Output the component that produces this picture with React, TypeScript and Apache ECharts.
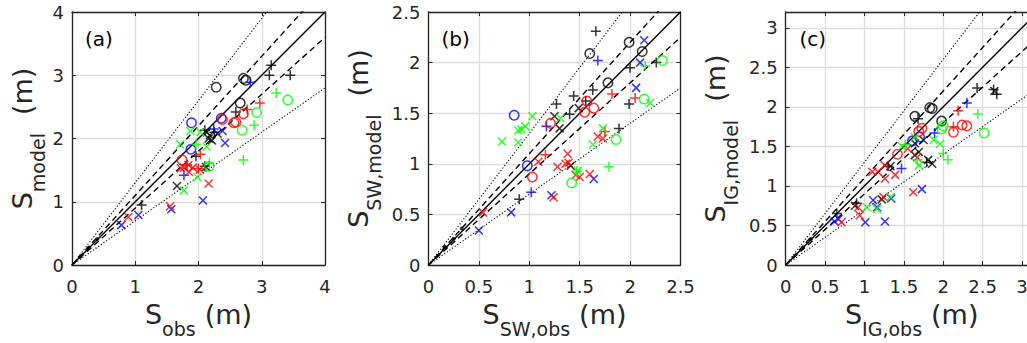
import React, { useEffect, useRef } from "react";
import * as echarts from "echarts";

// ---------------- data ----------------
// Panel (a): S_obs vs S_model
const aBlackO = [[2.28, 2.81], [2.71, 2.95], [2.75, 2.92], [2.66, 2.56]];
const aBlackP = [[3.15, 3.16], [3.12, 3.0], [3.45, 3.0], [2.59, 2.42], [2.1, 2.13], [2.25, 2.1], [1.96, 1.72], [2.1, 1.56], [1.1, 0.95]];
const aBlackX = [[2.13, 2.1], [2.18, 2.05], [2.16, 2.0], [2.21, 1.97], [2.3, 2.08], [2.12, 1.55], [1.66, 1.25]];
const aBlueO = [[1.89, 2.25], [1.88, 1.83], [2.36, 2.32]];
const aBlueP = [[2.82, 2.89], [2.24, 2.15], [1.77, 1.42]];
const aBlueX = [[2.38, 2.12], [2.42, 1.93], [2.07, 1.02], [1.57, 0.88], [1.05, 0.79], [0.78, 0.63]];
const aRedO = [[2.71, 2.39], [2.59, 2.26], [2.56, 2.25], [2.38, 2.3], [1.74, 1.66]];
const aRedP = [[2.97, 2.56], [2.77, 2.46], [2.03, 1.75], [1.82, 1.58], [2.0, 1.52]];
const aRedX = [[1.77, 1.54], [1.84, 1.58], [1.91, 1.54], [1.72, 1.53], [2.02, 1.51], [1.85, 1.47], [2.16, 1.29], [1.55, 0.93], [0.89, 0.76]];
const aGreenO = [[3.41, 2.61], [2.92, 2.41], [2.69, 2.13], [2.17, 1.56]];
const aGreenP = [[3.23, 2.72], [2.88, 2.21], [2.71, 1.66], [1.96, 1.91], [2.17, 1.61]];
const aGreenX = [[1.87, 2.12], [2.03, 2.1], [1.71, 1.91], [2.13, 1.87], [1.98, 1.39], [1.77, 1.18]];
const aDots = [[0.13, 0.13], [0.26, 0.27], [0.4, 0.41]];

// Panel (b): S_SW,obs vs S_SW,model
const bBlackO = [[1.6, 2.09], [1.99, 2.2], [2.12, 2.11], [1.78, 1.8]];
const bBlackP = [[1.66, 2.31], [2.0, 1.95], [2.26, 2.0], [1.99, 1.59], [1.89, 1.35], [1.27, 1.59], [1.44, 1.67], [1.4, 1.49], [1.56, 1.62], [1.63, 1.73], [0.9, 0.65]];
const bBlackX = [[1.25, 1.47], [1.3, 1.35], [1.41, 0.98], [1.49, 1.55]];
const bBlueO = [[0.85, 1.48], [0.98, 0.98]];
const bBlueP = [[1.68, 2.02], [1.17, 1.37], [1.02, 0.72]];
const bBlueX = [[2.14, 2.22], [2.1, 2.0], [2.06, 1.75], [1.22, 0.69], [1.64, 0.85], [0.82, 0.52], [0.5, 0.34]];
const bRedO = [[1.57, 1.62], [1.64, 1.55], [1.55, 1.51], [1.21, 1.4], [1.03, 0.87]];
const bRedP = [[1.82, 1.69], [2.05, 1.65], [1.75, 1.32], [1.16, 1.09]];
const bRedX = [[1.68, 1.27], [1.73, 1.25], [1.09, 1.02], [1.38, 1.1], [1.28, 0.97], [1.36, 1.0], [1.39, 1.01], [1.46, 0.89], [1.5, 0.87], [1.6, 0.9], [1.24, 0.67], [0.54, 0.52]];
const bGreenO = [[2.32, 2.02], [2.14, 1.64], [1.86, 1.24], [1.42, 0.81]];
const bGreenP = [[2.15, 1.97], [1.79, 0.97], [1.47, 0.93]];
const bGreenX = [[2.2, 1.6], [1.03, 1.47], [0.96, 1.37], [0.92, 1.34], [0.89, 1.33], [0.73, 1.22], [0.89, 1.21], [1.31, 1.45], [1.73, 1.35], [1.63, 1.19], [1.48, 0.93]];
const bDots = [[0.16, 0.18], [0.25, 0.26], [0.33, 0.36]];

// Panel (c): S_IG,obs vs S_IG,model
const cBlackO = [[1.83, 1.99], [1.86, 1.98], [1.64, 1.88], [1.98, 1.82]];
const cBlackP = [[2.43, 2.24], [2.64, 2.22], [2.68, 2.16], [1.68, 1.85], [1.79, 1.3], [1.3, 1.25], [0.9, 0.78], [0.65, 0.65]];
const cBlackX = [[1.75, 1.58], [1.64, 1.54], [1.69, 1.43], [1.64, 1.39], [1.81, 1.33], [1.86, 1.28], [1.33, 1.25], [1.22, 0.83], [0.88, 0.75], [2.65, 2.2]];
const cBlueO = [[1.61, 1.57], [1.7, 1.62]];
const cBlueP = [[2.3, 2.05], [1.89, 1.67], [1.47, 1.22]];
const cBlueX = [[1.73, 0.96], [1.11, 0.82], [1.16, 0.73], [1.34, 0.84], [1.01, 0.54], [1.26, 0.55], [0.67, 0.58], [0.62, 0.55]];
const cRedO = [[1.73, 1.73], [1.69, 1.69], [2.13, 1.68], [2.24, 1.77], [2.3, 1.76], [1.42, 1.4]];
const cRedP = [[2.19, 1.95], [2.13, 1.75]];
const cRedX = [[1.55, 1.47], [1.67, 1.36], [1.26, 1.26], [1.1, 1.18], [1.17, 1.18], [1.26, 1.09], [1.39, 1.14], [1.62, 0.92], [1.24, 0.86], [0.92, 0.73], [0.94, 0.63], [0.71, 0.54]];
const cGreenO = [[2.52, 1.67], [1.98, 1.72], [2.0, 1.76]];
const cGreenP = [[2.44, 1.91], [2.0, 1.41], [2.06, 1.33], [1.67, 1.33], [1.52, 1.52]];
const cGreenX = [[1.88, 1.58], [1.96, 1.53], [1.64, 1.62], [1.48, 1.5], [1.69, 1.26], [1.33, 0.86], [1.03, 0.73], [1.16, 0.71]];
const cDots = [[0.22, 0.22], [0.32, 0.33]];

// axis ranges and ticks
const xMaxes = [4, 2.5, 3.2];
const yMaxes = [4, 2.5, 3.2];
const intervals = [1, 0.5, 0.5];
const panelLabels = ["(a)", "(b)", "(c)"];
const xSubs = ["obs", "SW,obs", "IG,obs"];
const ySubs = ["model", "SW,model", "IG,model"];

// reference lines (ratio model/obs)
const solidSlopes = [1];
const dashedSlopes = [1.1, 0.9];
const dottedSlopes = [1.3, 0.7];

// ---------------- styling ----------------
const FONT = "DejaVu Sans";
const AX = "#262626";
const GRIDC = "#dedede";
const COLORS: Record<string, string> = { k: "#000000", r: "#ff0000", g: "#00ff00", b: "#0000ff" };
const PLUS = "path://M5,0L5,10M0,5L10,5";
const CROSS = "path://M0,0L10,10M0,10L10,0";

const PANEL_DATA = [
  { k: [aBlackO, aBlackP, aBlackX], b: [aBlueO, aBlueP, aBlueX], r: [aRedO, aRedP, aRedX], g: [aGreenO, aGreenP, aGreenX], dots: aDots },
  { k: [bBlackO, bBlackP, bBlackX], b: [bBlueO, bBlueP, bBlueX], r: [bRedO, bRedP, bRedX], g: [bGreenO, bGreenP, bGreenX], dots: bDots },
  { k: [cBlackO, cBlackP, cBlackX], b: [cBlueO, cBlueP, cBlueX], r: [cRedO, cRedP, cRedX], g: [cGreenO, cGreenP, cGreenX], dots: cDots },
];

const LAYOUT = [
  { left: 72, width: 253, yGap: 25, labelX: 85 },
  { left: 428.5, width: 252, yGap: 45.5, labelX: 441.5 },
  { left: 785.7, width: 252, yGap: 45.5, labelX: 799.5 },
];
const GRID_TOP = 12;
const GRID_H = 253;
const LH = 38;

const rich = {
  s: { fontSize: 27, lineHeight: LH, verticalAlign: "top", fontFamily: FONT, color: AX },
  sub: { fontSize: 19, lineHeight: 19, verticalAlign: "bottom", fontFamily: FONT, color: AX },
  u1: { fontSize: 27, lineHeight: LH, verticalAlign: "top", fontFamily: FONT, color: AX, padding: [0, 0, 0, 9] },
  u2: { fontSize: 27, lineHeight: LH, verticalAlign: "top", fontFamily: FONT, color: AX, padding: [0, 0, 0, 18] },
};

function tickFmt(interval: number) {
  return (v: number) => (Math.abs(v / interval - Math.round(v / interval)) < 1e-6 ? String(v) : "");
}

export default function App() {
  const ref = useRef<HTMLDivElement>(null);
  useEffect(() => {
    if (!ref.current) return;
    document.body.style.margin = "0";
    const chart = echarts.init(ref.current, undefined, { renderer: "svg" });

    const grids: any[] = [];
    const xAxes: any[] = [];
    const yAxes: any[] = [];
    const series: any[] = [];
    const graphics: any[] = [];

    for (let i = 0; i < 3; i++) {
      const L = LAYOUT[i];
      grids.push({ left: L.left, top: GRID_TOP, width: L.width, height: GRID_H, containLabel: false, outerBoundsMode: "none" });
      const common = {
        gridIndex: i,
        type: "value",
        min: 0,
        interval: intervals[i],
        axisLine: { show: true, onZero: false, lineStyle: { color: AX, width: 1.3 } },
        axisTick: { show: true, inside: true, length: 4, lineStyle: { color: AX, width: 1 } },
      };
      xAxes.push({
        ...common,
        max: xMaxes[i],
        position: "bottom",
        axisLabel: { fontSize: 18, fontFamily: FONT, color: AX, margin: 12, formatter: tickFmt(intervals[i]) },
        splitLine: { show: true, lineStyle: { color: GRIDC, width: 1.3 } },
        name: `{s|S}{sub|${xSubs[i]}}{u1|(m)}`,
        nameLocation: "middle",
        nameGap: 35.5,
        nameTextStyle: { fontSize: 27, fontFamily: FONT, color: AX, rich },
      });
      xAxes.push({
        ...common,
        max: xMaxes[i],
        position: "top",
        axisLabel: { show: false },
        splitLine: { show: false },
      });
      yAxes.push({
        ...common,
        max: yMaxes[i],
        position: "left",
        axisLabel: { fontSize: 18, fontFamily: FONT, color: AX, margin: 8, formatter: tickFmt(intervals[i]) },
        splitLine: { show: true, lineStyle: { color: GRIDC, width: 1.3 } },
        name: `{s|S}{sub|${ySubs[i]}}{u2|(m)}`,
        nameLocation: "middle",
        nameGap: L.yGap,
        nameTextStyle: { fontSize: 27, fontFamily: FONT, color: AX, rich },
      });
      yAxes.push({
        ...common,
        max: yMaxes[i],
        position: "right",
        axisLabel: { show: false },
        splitLine: { show: false },
      });

      const xi = i * 2;
      const yi = i * 2;
      const xm = xMaxes[i];

      const addLine = (slope: number, type: any, width: number) => {
        series.push({
          type: "line",
          xAxisIndex: xi,
          yAxisIndex: yi,
          data: [[0, 0], [xm, xm * slope]],
          symbol: "none",
          clip: true,
          silent: true,
          lineStyle: { color: "#000", width, type },
          z: 2,
        });
      };
      solidSlopes.forEach((s) => addLine(s, "solid", 1.4));
      dashedSlopes.forEach((s) => addLine(s, [6, 4], 1.4));
      dottedSlopes.forEach((s) => addLine(s, [1.2, 2], 1.1));

      const pd: any = PANEL_DATA[i];
      (["k", "b", "r", "g"] as const).forEach((c) => {
        const [o, p, x] = pd[c];
        const col = COLORS[c];
        series.push({
          type: "scatter", xAxisIndex: xi, yAxisIndex: yi, data: o, symbol: "circle", symbolSize: 9.5, silent: true, z: 3,
          itemStyle: { color: "rgba(0,0,0,0)", borderColor: col, borderWidth: 1.5 },
        });
        series.push({
          type: "scatter", xAxisIndex: xi, yAxisIndex: yi, data: p, symbol: PLUS, symbolSize: 10, silent: true, z: 3,
          itemStyle: { color: "rgba(0,0,0,0)", borderColor: col, borderWidth: 1.5 },
        });
        series.push({
          type: "scatter", xAxisIndex: xi, yAxisIndex: yi, data: x, symbol: CROSS, symbolSize: 8, silent: true, z: 3,
          itemStyle: { color: "rgba(0,0,0,0)", borderColor: col, borderWidth: 1.5 },
        });
      });
      series.push({
        type: "scatter", xAxisIndex: xi, yAxisIndex: yi, data: pd.dots, symbol: "circle", symbolSize: 4, silent: true, z: 3,
        itemStyle: { color: "#000" },
      });

      graphics.push({
        type: "text",
        left: L.labelX,
        top: 29,
        style: { text: panelLabels[i], fontSize: 20, fontFamily: FONT, fill: "#000" },
      });
    }

    chart.setOption({
      animation: false,
      backgroundColor: "#ffffff",
      grid: grids,
      xAxis: xAxes,
      yAxis: yAxes,
      series,
      graphic: graphics,
    });
    return () => chart.dispose();
  }, []);

  return <div ref={ref} style={{ position: "absolute", left: 0, top: 0, width: 1027, height: 343 }} />;
}
